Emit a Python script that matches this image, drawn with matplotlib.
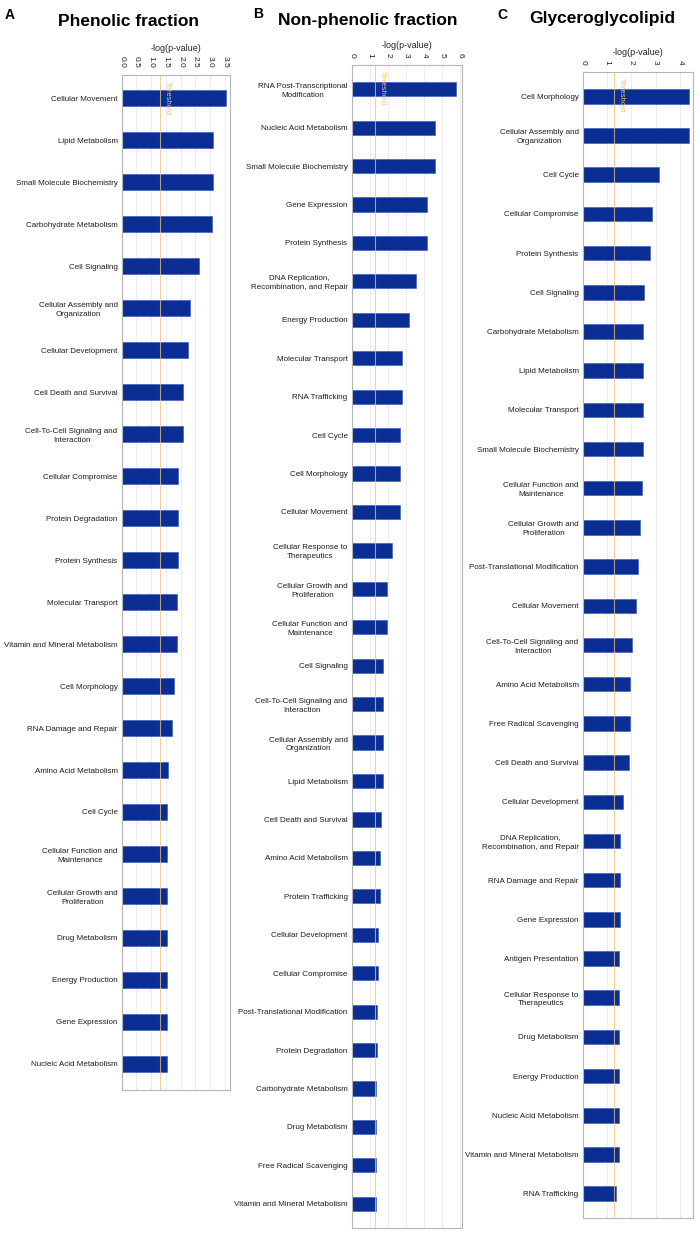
import matplotlib
matplotlib.use("Agg")
import matplotlib.pyplot as plt
import numpy as np

# Panel A - Phenolic fraction
cats_a = ["Cellular Movement", "Lipid Metabolism", "Small Molecule Biochemistry",
          "Carbohydrate Metabolism", "Cell Signaling", "Cellular Assembly and\nOrganization",
          "Cellular Development", "Cell Death and Survival",
          "Cell-To-Cell Signaling and\nInteraction", "Cellular Compromise",
          "Protein Degradation", "Protein Synthesis", "Molecular Transport",
          "Vitamin and Mineral Metabolism", "Cell Morphology", "RNA Damage and Repair",
          "Amino Acid Metabolism", "Cell Cycle", "Cellular Function and\nMaintenance",
          "Cellular Growth and\nProliferation", "Drug Metabolism", "Energy Production",
          "Gene Expression", "Nucleic Acid Metabolism"]
vals_a = [3.52, 3.10, 3.10, 3.07, 2.61, 2.31, 2.25, 2.09, 2.09, 1.91, 1.91, 1.91,
          1.87, 1.87, 1.77, 1.70, 1.57, 1.54, 1.54, 1.54, 1.54, 1.54, 1.52, 1.52]
ticks_a = [0.0, 0.5, 1.0, 1.5, 2.0, 2.5, 3.0, 3.5]

# Panel B - Non-phenolic fraction
cats_b = ["RNA Post-Transcriptional\nModification", "Nucleic Acid Metabolism",
          "Small Molecule Biochemistry", "Gene Expression", "Protein Synthesis",
          "DNA Replication,\nRecombination, and Repair", "Energy Production",
          "Molecular Transport", "RNA Trafficking", "Cell Cycle", "Cell Morphology",
          "Cellular Movement", "Cellular Response to\nTherapeutics",
          "Cellular Growth and\nProliferation", "Cellular Function and\nMaintenance",
          "Cell Signaling", "Cell-To-Cell Signaling and\nInteraction",
          "Cellular Assembly and\nOrganization", "Lipid Metabolism",
          "Cell Death and Survival", "Amino Acid Metabolism", "Protein Trafficking",
          "Cellular Development", "Cellular Compromise",
          "Post-Translational Modification", "Protein Degradation",
          "Carbohydrate Metabolism", "Drug Metabolism", "Free Radical Scavenging",
          "Vitamin and Mineral Metabolism"]
vals_b = [5.78, 4.63, 4.63, 4.17, 4.17, 3.57, 3.17, 2.78, 2.78, 2.67, 2.69, 2.69,
          2.24, 1.93, 1.93, 1.74, 1.74, 1.74, 1.74, 1.63, 1.56, 1.54, 1.46, 1.43,
          1.41, 1.41, 1.35, 1.35, 1.35, 1.35]
ticks_b = [0, 1, 2, 3, 4, 5, 6]

# Panel C - Glyceroglycolipid
cats_c = ["Cell Morphology", "Cellular Assembly and\nOrganization", "Cell Cycle",
          "Cellular Compromise", "Protein Synthesis", "Cell Signaling",
          "Carbohydrate Metabolism", "Lipid Metabolism", "Molecular Transport",
          "Small Molecule Biochemistry", "Cellular Function and\nMaintenance",
          "Cellular Growth and\nProliferation", "Post-Translational Modification",
          "Cellular Movement", "Cell-To-Cell Signaling and\nInteraction",
          "Amino Acid Metabolism", "Free Radical Scavenging", "Cell Death and Survival",
          "Cellular Development", "DNA Replication,\nRecombination, and Repair",
          "RNA Damage and Repair", "Gene Expression", "Antigen Presentation",
          "Cellular Response to\nTherapeutics", "Drug Metabolism", "Energy Production",
          "Nucleic Acid Metabolism", "Vitamin and Mineral Metabolism", "RNA Trafficking"]
vals_c = [4.37, 4.37, 3.14, 2.85, 2.78, 2.51, 2.48, 2.48, 2.48, 2.48, 2.44, 2.36,
          2.26, 2.18, 2.03, 1.95, 1.95, 1.90, 1.66, 1.55, 1.52, 1.52, 1.48, 1.48,
          1.48, 1.48, 1.48, 1.48, 1.37]
ticks_c = [0, 1, 2, 3, 4]

threshold = 1.3

BAR = "#0a2e94"
GRID = "#ececec"
THR = "#f0c27a"

W, H = 700, 1234
fig = plt.figure(figsize=(W / 100, H / 100), dpi=100)
fig.patch.set_facecolor("white")


def px_axes(left, right, top, bottom):
    return fig.add_axes([left / W, 1 - bottom / H, (right - left) / W, (bottom - top) / H])


def panel(ax, cats, vals, ticks, xmax, fmt, pad_top, pad_bot):
    n = len(cats)
    y = np.arange(n)
    ax.barh(y, vals, height=0.37, color=BAR, edgecolor="#2f52b8", linewidth=0.4, zorder=2)
    ax.set_ylim(n - 1 + pad_bot, -pad_top)
    ax.set_xlim(0, xmax)
    ax.set_yticks(y)
    ax.set_yticklabels(cats, fontsize=5.8, family="Liberation Sans", color="#1e1e1e",
                       multialignment="center", linespacing=1.35)
    ax.set_xticks(ticks)
    ax.set_xticklabels([fmt.format(t) for t in ticks], rotation=-90, fontsize=6,
                       family="Liberation Sans", color="#222222")
    ax.xaxis.tick_top()
    ax.tick_params(axis="both", length=0, pad=3)
    ax.tick_params(axis="x", pad=5)
    for t in ticks[1:]:
        ax.axvline(t, color=GRID, lw=0.7, zorder=1)
    # threshold line sits over the bars, like the original export
    ax.axvline(threshold, color=THR, lw=0.8, alpha=0.75, zorder=3)
    ax.text(threshold + 0.03 * xmax, -pad_top + 0.15, "Threshold", rotation=-90,
            fontsize=5.5, color=THR, family="Liberation Sans", va="top", ha="left")
    for s in ax.spines.values():
        s.set_color("#b5b5b5")
        s.set_linewidth(0.8)
    ax.set_xlabel("-log(p-value)", fontsize=6.5, family="Liberation Sans",
                  color="#222222", labelpad=4)
    ax.xaxis.set_label_position("top")


ax_a = px_axes(121.7, 230, 75, 1090)
panel(ax_a, cats_a, vals_a, ticks_a, 3.67, "{:.1f}", 0.55, 0.62)

ax_b = px_axes(351.7, 462, 65, 1228)
panel(ax_b, cats_b, vals_b, ticks_b, 6.1, "{:d}", 0.63, 0.63)

ax_c = px_axes(582.7, 693, 72, 1218)
panel(ax_c, cats_c, vals_c, ticks_c, 4.54, "{:d}", 0.62, 0.62)

# panel letters and titles
title_kw = dict(fontsize=12.5, fontweight="bold", family="Liberation Sans",
                ha="center", va="center")
letter_kw = dict(fontsize=10, fontweight="bold", family="Liberation Sans",
                 ha="center", va="center")
fig.text(10 / W, 1 - 15 / H, "A", **letter_kw)
fig.text(128 / W, 1 - 21 / H, "Phenolic fraction", **title_kw)
fig.text(258 / W, 1 - 14 / H, "B", **letter_kw)
fig.text(368 / W, 1 - 21 / H, "Non-phenolic fraction", **title_kw)
fig.text(502 / W, 1 - 15 / H, "C", **letter_kw)
fig.text(602 / W, 1 - 19 / H, "Glyceroglycolipid", **title_kw)

fig.savefig("out.png", dpi=100, facecolor="white")
